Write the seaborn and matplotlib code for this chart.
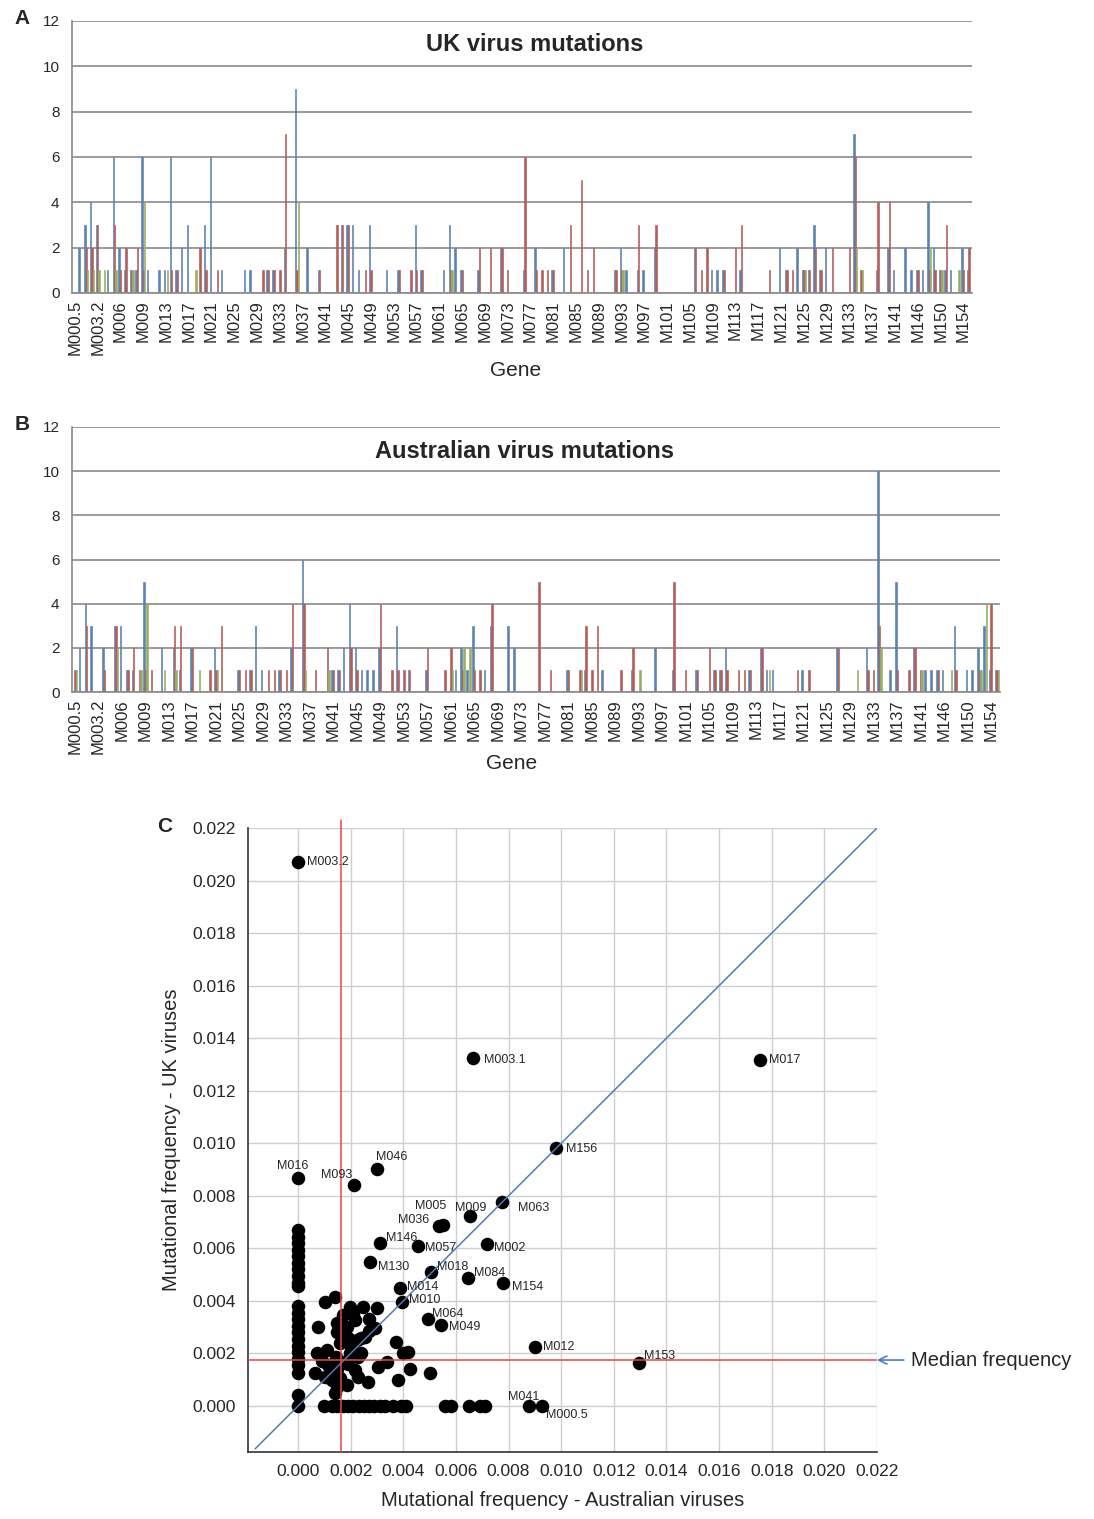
import numpy as np
import pandas as pd
import matplotlib
matplotlib.use("Agg")
import matplotlib.pyplot as plt
import seaborn as sns

# ---- categories (myxoma genes, x axis of A and B) ----
genes = (["M000.5", "M001", "M002", "M003.1", "M003.2", "M004", "M004.1",
          "M005", "M006", "M007", "M008", "M008.1"]
         + ["M%03d" % n for n in range(9, 142)]
         + ["M142", "M143", "M144", "M146", "M147", "M148", "M149", "M150",
            "M151", "M152", "M153", "M154", "M156"])

series = ["s1", "s2", "s3"]
bar_colors = ["#4F81BD", "#C0504D", "#9BBB59"]

# ---- A: UK virus mutations (counts per gene, genes not listed = 0) ----
uk_blue = {"M001": 2, "M002": 3, "M003.1": 4, "M003.2": 3, "M004.1": 1, "M005": 6, "M006": 2,
           "M007": 1, "M008": 1, "M008.1": 1, "M009": 6, "M010": 1, "M012": 1, "M013": 1,
           "M014": 6, "M015": 1, "M016": 2, "M017": 3, "M020": 3, "M021": 6, "M023": 1,
           "M027": 1, "M028": 1, "M031": 1, "M032": 1, "M034": 2, "M036": 9, "M038": 2,
           "M040": 1, "M044": 3, "M045": 3, "M046": 3, "M047": 1, "M049": 3, "M052": 1,
           "M054": 1, "M057": 3, "M058": 1, "M062": 1, "M063": 3, "M064": 2, "M065": 1,
           "M068": 1, "M072": 2, "M076": 1, "M078": 2, "M081": 1, "M083": 2, "M092": 1,
           "M093": 2, "M094": 1, "M096": 1, "M097": 1, "M099": 2, "M106": 2, "M109": 1,
           "M110": 1, "M111": 1, "M114": 1, "M121": 2, "M122": 1, "M124": 2, "M125": 1,
           "M126": 1, "M127": 3, "M128": 1, "M129": 2, "M134": 7, "M138": 1, "M140": 2,
           "M141": 1, "M143": 2, "M144": 1, "M146": 1, "M147": 1, "M148": 4, "M149": 2,
           "M150": 1, "M151": 1, "M152": 1, "M154": 2, "M156": 1}
uk_red = {"M002": 2, "M003.1": 2, "M003.2": 3, "M005": 3, "M006": 1, "M007": 2, "M008": 1,
          "M008.1": 2, "M009": 1, "M014": 1, "M015": 1, "M019": 2, "M020": 1, "M022": 1,
          "M030": 1, "M031": 1, "M032": 1, "M033": 1, "M034": 7, "M036": 1, "M040": 1,
          "M043": 3, "M044": 3, "M045": 3, "M048": 1, "M049": 1, "M054": 1, "M056": 1,
          "M057": 1, "M058": 1, "M063": 1, "M065": 1, "M068": 2, "M070": 2, "M072": 2,
          "M073": 1, "M076": 6, "M078": 1, "M079": 1, "M080": 1, "M081": 1, "M084": 3,
          "M086": 5, "M087": 1, "M088": 2, "M092": 1, "M093": 1, "M096": 3, "M099": 3,
          "M106": 2, "M107": 1, "M108": 2, "M111": 1, "M113": 2, "M114": 3, "M119": 1,
          "M122": 1, "M123": 1, "M125": 1, "M126": 1, "M127": 2, "M128": 1, "M130": 2,
          "M133": 2, "M134": 6, "M135": 1, "M138": 4, "M140": 4, "M146": 1, "M148": 1,
          "M149": 1, "M150": 1, "M151": 3, "M154": 1, "M156": 2}
uk_green = {"M002": 1, "M003.1": 1, "M003.2": 1, "M004": 1, "M005": 1, "M008": 1, "M009": 4,
            "M013": 1, "M018": 1, "M036": 4, "M063": 1, "M093": 1, "M125": 1, "M134": 2,
            "M135": 1, "M148": 2, "M150": 1, "M153": 1}

# ---- B: Australian virus mutations ----
au_blue = {"M001": 2, "M002": 4, "M003.1": 3, "M004": 2, "M005": 3, "M006": 3, "M007": 1,
           "M008": 1, "M009": 5, "M012": 2, "M014": 2, "M015": 1, "M017": 2, "M021": 2,
           "M025": 1, "M027": 1, "M028": 3, "M029": 1, "M032": 1, "M034": 2, "M036": 6,
           "M041": 1, "M042": 1, "M043": 2, "M044": 4, "M045": 2, "M046": 1, "M047": 1,
           "M048": 1, "M049": 2, "M052": 3, "M054": 1, "M057": 1, "M062": 1, "M063": 2,
           "M064": 1, "M065": 3, "M067": 1, "M068": 3, "M071": 3, "M072": 2, "M081": 1,
           "M084": 1, "M087": 1, "M092": 1, "M096": 2, "M099": 1, "M103": 1, "M106": 1,
           "M107": 1, "M108": 2, "M112": 1, "M114": 2, "M115": 1, "M116": 1, "M121": 1,
           "M127": 2, "M132": 2, "M134": 10, "M136": 1, "M137": 5, "M140": 2, "M142": 1,
           "M143": 1, "M144": 1, "M146": 1, "M148": 3, "M150": 1, "M151": 1, "M152": 2,
           "M153": 3, "M154": 1, "M156": 1}
au_red = {"M000.5": 1, "M002": 3, "M004": 1, "M005": 3, "M007": 1, "M008": 2, "M008.1": 1,
          "M009": 1, "M010": 1, "M014": 3, "M015": 3, "M017": 2, "M020": 1, "M021": 1,
          "M022": 3, "M025": 1, "M026": 1, "M027": 1, "M030": 1, "M031": 1, "M032": 1,
          "M033": 1, "M034": 4, "M036": 4, "M038": 1, "M040": 2, "M041": 1, "M042": 1,
          "M044": 2, "M045": 1, "M049": 4, "M051": 1, "M052": 1, "M053": 1, "M054": 1,
          "M057": 2, "M060": 1, "M061": 2, "M063": 1, "M065": 1, "M066": 1, "M068": 4,
          "M076": 5, "M078": 1, "M081": 1, "M083": 1, "M084": 3, "M085": 1, "M086": 3,
          "M090": 1, "M092": 2, "M099": 5, "M101": 1, "M103": 1, "M105": 2, "M106": 1,
          "M107": 1, "M108": 1, "M110": 1, "M111": 1, "M112": 1, "M114": 2, "M120": 1,
          "M122": 1, "M127": 2, "M132": 1, "M133": 1, "M134": 3, "M137": 1, "M139": 1,
          "M140": 2, "M141": 1, "M144": 1, "M148": 1, "M152": 1, "M154": 4, "M156": 1}
au_green = {"M000.5": 1, "M005": 2, "M008.1": 1, "M009": 4, "M012": 1, "M014": 1, "M018": 1,
            "M021": 1, "M036": 1, "M040": 1, "M061": 1, "M063": 2, "M064": 2, "M083": 1,
            "M093": 1, "M115": 1, "M130": 1, "M134": 2, "M141": 1, "M147": 1, "M152": 1,
            "M153": 4, "M156": 1}

# ---- C: mutational frequency, labelled genes ----
lab_genes = ["M003.2", "M003.1", "M017", "M156", "M016", "M093", "M046", "M063", "M009",
             "M005", "M036", "M002", "M146", "M057", "M130", "M018", "M084", "M154",
             "M014", "M010", "M064", "M049", "M012", "M153", "M041", "M000.5"]
lab_aus = [0.0, 0.00665, 0.01757, 0.00981, 0.0, 0.00213, 0.0030, 0.00776, 0.00654,
           0.00551, 0.00536, 0.00719, 0.00312, 0.00456, 0.00274, 0.00506, 0.00646, 0.00779,
           0.00388, 0.00395, 0.00494, 0.00544, 0.00901, 0.01297, 0.00878, 0.00928]
lab_uk = [0.02069, 0.01326, 0.01318, 0.00983, 0.00869, 0.00842, 0.00903, 0.00777, 0.00724,
          0.0069, 0.00686, 0.00617, 0.00621, 0.0061, 0.00549, 0.0051, 0.00488, 0.00469,
          0.0045, 0.00396, 0.00331, 0.00309, 0.00225, 0.00164, 0.0, 0.0]
# unlabelled genes
other_aus = [0.0] * 23 + [
    0.0010, 0.0013, 0.0015, 0.0017, 0.0019, 0.0021, 0.0023, 0.0025, 0.0027, 0.0029,
    0.0031, 0.0033, 0.0036, 0.0039, 0.0041, 0.0056, 0.0058, 0.0065, 0.0069, 0.0071,
    0.00103, 0.00141, 0.00077, 0.00147, 0.0016, 0.00071, 0.00109, 0.00065, 0.00103,
    0.00128, 0.00141, 0.00147, 0.00185, 0.00198, 0.00172, 0.00217, 0.00248, 0.00299,
    0.00185, 0.00223, 0.00255, 0.00293, 0.00198, 0.00229, 0.00217, 0.00229, 0.00267,
    0.00305, 0.00337, 0.00371, 0.0040, 0.00419, 0.00426, 0.00381, 0.00502, 0.00172,
    0.0013, 0.00115, 0.0020, 0.0024, 0.0027, 0.00145, 0.0019, 0.0021, 0.0015, 0.0027,
    0.0009, 0.0015, 0.0016, 0.0019, 0.0024]
other_uk = [0.0067, 0.00645, 0.0062, 0.00595, 0.0057, 0.00545, 0.0052, 0.00495, 0.0047,
            0.00455, 0.0038, 0.00355, 0.0033, 0.00305, 0.0028, 0.00255, 0.0023, 0.00205,
            0.0018, 0.00155, 0.00125, 0.00042, 0.0] + [0.0] * 20 + [
    0.00397, 0.00416, 0.00302, 0.00283, 0.00239, 0.00201, 0.00213, 0.00125, 0.00112,
    0.00099, 0.00048, 0.00074, 0.0008, 0.00378, 0.00347, 0.00328, 0.00378, 0.00372,
    0.00302, 0.00251, 0.00264, 0.00296, 0.00201, 0.00188, 0.00137, 0.00112, 0.00093,
    0.0015, 0.00169, 0.00245, 0.00201, 0.00207, 0.0014, 0.00099, 0.00125, 0.00169,
    0.0013, 0.00155, 0.0023, 0.0026, 0.00285, 0.00185, 0.0026, 0.0035, 0.00315, 0.0033,
    0.0017, 0.0014, 0.00105, 0.0016, 0.002]
median_aus = 0.00163
median_uk = 0.00175

# label offsets in pixels (dx, dy) from the point
lab_offsets = {"M003.2": (9, 0), "M003.1": (11, -2), "M017": (9, 0), "M156": (10, -1),
               "M016": (-21, 12), "M093": (-33, 10), "M046": (-1, 12), "M063": (16, -6),
               "M009": (-15, 8), "M005": (-28, 19), "M036": (-41, 6), "M002": (7, -4),
               "M146": (6, 5), "M057": (7, -2), "M130": (8, -5), "M018": (6, 5),
               "M084": (6, 5), "M154": (9, -4), "M014": (7, 1), "M010": (7, 2),
               "M064": (4, 5), "M049": (8, -2), "M012": (8, 0), "M153": (5, 7),
               "M041": (-21, 9), "M000.5": (4, -9)}

sns.set_style("white")
plt.rcParams["font.family"] = ["Liberation Sans", "DejaVu Sans"]

W, H = 1094, 1519
fig = plt.figure(figsize=(W / 100, H / 100), dpi=100)


def bar_panel(rect, counts, title, title_xy):
    ax = fig.add_axes(rect)
    rows = []
    for name, d in zip(series, counts):
        for g in genes:
            rows.append({"gene": g, "series": name, "count": d.get(g, 0)})
    df = pd.DataFrame(rows)
    sns.barplot(data=df, x="gene", y="count", hue="series", order=genes,
                hue_order=series, palette=bar_colors, width=0.72, linewidth=0,
                errorbar=None, legend=False, ax=ax)
    # give the very thin bars a crisp outline in their own colour
    for p in ax.patches:
        p.set_edgecolor(p.get_facecolor())
        p.set_linewidth(0.45)
    ax.set_xlim(-0.5, len(genes) - 0.5)
    ax.set_ylim(0, 12)
    ax.set_yticks(range(0, 13, 2))
    ax.yaxis.grid(True, color="#8a8a8a", lw=1.2)
    ax.set_axisbelow(True)
    ax.set_xticks(range(0, len(genes), 4))
    ax.set_xticklabels(genes[::4], rotation=90, fontsize=12)
    ax.set_xticks(np.arange(-0.5, len(genes), 1), minor=True)
    ax.tick_params(axis="x", which="major", length=0, pad=5)
    ax.tick_params(axis="x", which="minor", length=4, color="#8a8a8a", width=1)
    ax.tick_params(axis="y", length=0, labelsize=11, pad=9)
    for s in ["top", "right"]:
        ax.spines[s].set_visible(False)
    for s in ["left", "bottom"]:
        ax.spines[s].set_color("#8a8a8a")
        ax.spines[s].set_linewidth(1.2)
    ax.set_xlabel("")
    ax.set_ylabel("")
    ax.text(title_xy[0], title_xy[1], title, transform=ax.transAxes, ha="center",
            va="center", fontsize=17, fontweight="bold")
    return ax


axA = bar_panel([72 / W, 1 - 293 / H, 900 / W, 272 / H], [uk_blue, uk_red, uk_green],
                "UK virus mutations", (0.514, 0.915))
axB = bar_panel([72 / W, 1 - 692 / H, 928 / W, 265 / H], [au_blue, au_red, au_green],
                "Australian virus mutations", (0.488, 0.909))
fig.text(516 / W, 1 - 371 / H, "Gene", ha="center", va="center", fontsize=15)
fig.text(512 / W, 1 - 763 / H, "Gene", ha="center", va="center", fontsize=15)

# ---- panel C ----
axC = fig.add_axes([248 / W, 1 - 1452 / H, 629 / W, 624 / H])
axC.set_xlim(-0.0019, 0.022)
axC.set_ylim(-0.00175, 0.022)
ticks = np.arange(0, 0.0221, 0.002)
axC.set_xticks(ticks)
axC.set_yticks(ticks)
axC.set_xticklabels(["%.3f" % t for t in ticks])
axC.set_yticklabels(["%.3f" % t for t in ticks])
axC.grid(True, color="#cfcfcf", lw=1)
axC.set_axisbelow(True)
for s in ["top", "right"]:
    axC.spines[s].set_visible(False)
for s in ["left", "bottom"]:
    axC.spines[s].set_color("#333333")
    axC.spines[s].set_linewidth(1.2)
axC.tick_params(length=5, width=1, color="#333333", labelsize=12.5, pad=4)

scat = pd.DataFrame({"aus": other_aus + lab_aus, "uk": other_uk + lab_uk})
sns.scatterplot(data=scat, x="aus", y="uk", color="black", s=95, linewidth=0,
                ax=axC, zorder=2)
axC.plot([-0.00163, 0.022], [-0.00163, 0.022], color="#4A7EBB", lw=1.1, zorder=3)
axC.plot([median_aus, median_aus], [-0.00175, 0.0223], color="#E8474A", lw=1.1,
         zorder=3, clip_on=False)
axC.plot([-0.0019, 0.022], [median_uk, median_uk], color="#E8474A", lw=1.1, zorder=3)
for g, xa, yu in zip(lab_genes, lab_aus, lab_uk):
    dx, dy = lab_offsets[g]
    axC.annotate(g, (xa, yu), xytext=(dx, dy), textcoords="offset pixels",
                 fontsize=9, ha="left", va="center", zorder=4)
axC.annotate("Median frequency", xy=(0.022, median_uk), xytext=(0.0233, median_uk),
             ha="left", va="center", fontsize=14.5, annotation_clip=False,
             arrowprops=dict(arrowstyle="->", color="#4A7EBB", lw=1.2,
                             shrinkA=3, shrinkB=0))
axC.set_xlabel("Mutational frequency - Australian viruses", fontsize=14.5, labelpad=8)
axC.set_ylabel("Mutational frequency - UK viruses", fontsize=14.5, labelpad=8)

fig.text(22 / W, 1 - 18 / H, "A", ha="center", va="center", fontsize=15, fontweight="bold")
fig.text(22 / W, 1 - 425 / H, "B", ha="center", va="center", fontsize=15, fontweight="bold")
fig.text(165 / W, 1 - 826 / H, "C", ha="center", va="center", fontsize=15, fontweight="bold")

fig.savefig("out.png", dpi=100)
